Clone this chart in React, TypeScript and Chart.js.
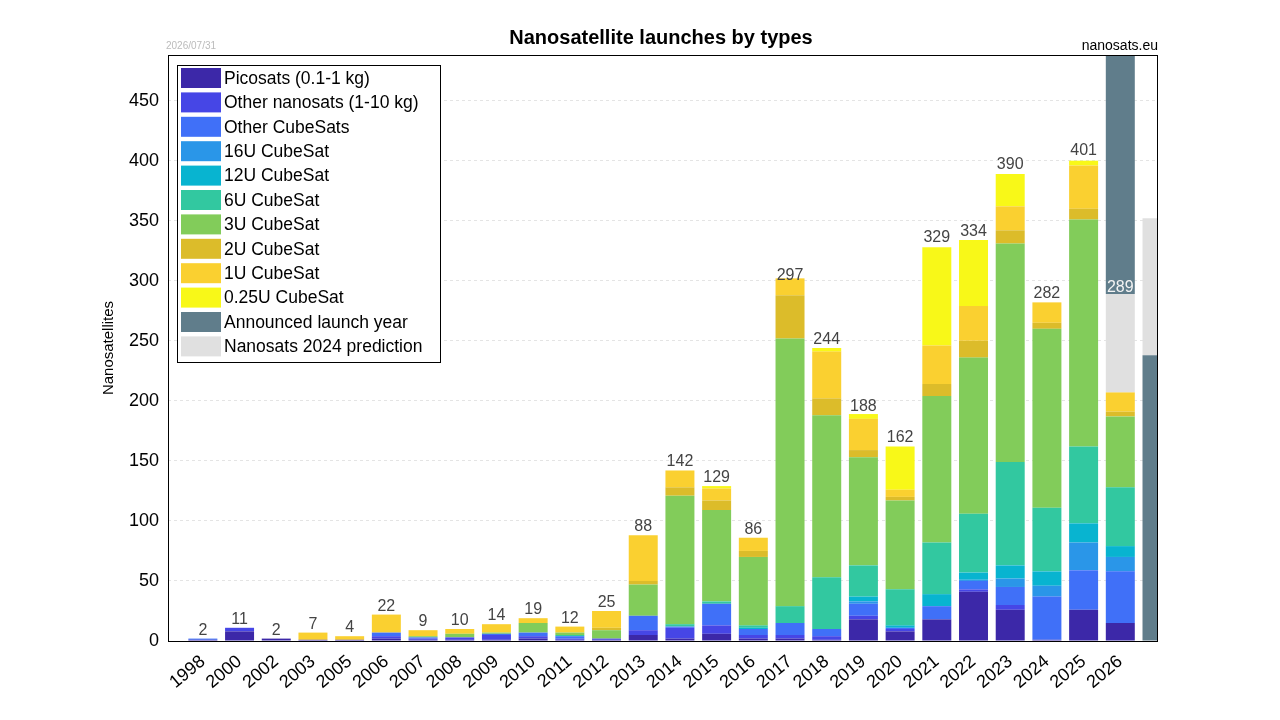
import React, { useEffect, useRef } from "react";
import { Chart, registerables } from "chart.js";
Chart.register(...registerables);

const years = ["1998","2000","2002","2003","2005","2006","2007","2008","2009","2010","2011","2012","2013","2014","2015","2016","2017","2018","2019","2020","2021","2022","2023","2024","2025","2026",""];
const totals = [2,11,2,7,4,22,9,10,14,19,12,25,88,142,129,86,297,244,188,162,329,334,390,282,401];

const picosats   = [1,8,2,1,1,2,1,1,1,2,1,1,5,2,6,2,2,1,18,8,18,41,26,1,26,15,0];
const otherNano  = [0,3,0,0,0,2,1,2,4,2,1,1,4,9,7,3,3,3,3,2,0,2,4,0,0,0,0];
const otherCube  = [1,0,0,0,0,3,1,0,1,3,2,0,12,1,18,5,10,6,10,1,11,7,15,36,33,43,0];
const u16        = [0,0,0,0,0,0,0,0,0,0,0,0,0,0,0,0,0,0,2,0,0,1,7,9,23,12,0];
const u12        = [0,0,0,0,0,0,0,0,0,0,0,0,0,0,0,1,0,0,4,2,10,6,11,12,16,9,0];
const u6         = [0,0,0,0,0,0,0,0,0,0,1,0,0,2,2,2,14,43,26,30,43,49,86,53,64,49,0];
const u3         = [0,0,0,0,0,0,1,3,1,8,2,7,26,107,76,57,223,135,90,74,122,130,182,149,189,59,0];
const u2         = [0,0,0,0,0,0,0,0,0,0,0,2,3,7,8,5,36,14,6,3,10,14,11,5,9,4,0];
const u1         = [0,0,0,6,3,15,5,4,7,4,5,14,38,14,10,11,14,39,26,6,32,29,20,17,36,16,0];
const u025       = [0,0,0,0,0,0,0,0,0,0,0,0,0,0,2,0,0,3,4,36,82,55,27,0,4,0,0];
const announced  = [0,0,0,0,0,0,0,0,0,0,0,0,0,0,0,0,0,0,0,0,0,0,0,0,0,0,238];
const prediction = [0,0,0,0,0,0,0,0,0,0,0,0,0,0,0,0,0,0,0,0,0,0,0,0,0,82,114];
const announced2026 = [0,0,0,0,0,0,0,0,0,0,0,0,0,0,0,0,0,0,0,0,0,0,0,0,0,250,0];
const predictionTotal = 289;

const seriesNames = ["Picosats (0.1-1 kg)","Other nanosats (1-10 kg)","Other CubeSats","16U CubeSat","12U CubeSat","6U CubeSat","3U CubeSat","2U CubeSat","1U CubeSat","0.25U CubeSat","Announced launch year","Nanosats 2024 prediction"];
const seriesColors = ["#3c28a8","#4646e6","#4070f8","#2a96e8","#08b4d0","#32c8a0","#82cc5a","#dcbc2a","#fad030","#f8f818","#607d8b","#e0e0e0"];

const FONT = "Arial, 'Liberation Sans', sans-serif";

export default function App() {
  const ref = useRef<HTMLCanvasElement>(null);
  useEffect(() => {
    document.body.style.margin = "0";
    const series = [picosats,otherNano,otherCube,u16,u12,u6,u3,u2,u1,u025];
    const ds: any[] = series.map((s, i) => ({
      label: seriesNames[i], backgroundColor: seriesColors[i],
      data: s.map((v, j) => ({ x: j, y: v })),
    }));
    ds.push({ label: seriesNames[10], backgroundColor: seriesColors[10], data: announced.map((v, j) => ({ x: j, y: v })) });
    ds.push({ label: seriesNames[11], backgroundColor: seriesColors[11], data: prediction.map((v, j) => ({ x: j, y: v })) });
    ds.push({ label: "_a2026", backgroundColor: seriesColors[10], data: announced2026.map((v, j) => ({ x: j, y: v })) });
    ds.forEach((d) => { d.barPercentage = 0.79; d.categoryPercentage = 1; d.borderWidth = 0; });

    const deco = {
      id: "deco",
      afterDraw(chart: any) {
        const ctx = chart.ctx;
        const { left, right, top, bottom } = chart.chartArea;
        const xs = chart.scales.x, ys = chart.scales.y;
        ctx.save();
        ctx.strokeStyle = "#000"; ctx.lineWidth = 1;
        ctx.strokeRect(left + 0.5, top + 0.5, right - left, bottom - top);
        ctx.fillStyle = "#000"; ctx.textAlign = "center"; ctx.textBaseline = "alphabetic";
        ctx.font = "bold 20px " + FONT;
        ctx.fillText("Nanosatellite launches by types", 661, 44);
        ctx.font = "14px " + FONT;
        ctx.textAlign = "right"; ctx.fillText("nanosats.eu", right + 1, 50);
        ctx.font = "10px " + FONT; ctx.fillStyle = "#bbb";
        ctx.textAlign = "left"; ctx.fillText("2026/07/31", 166, 49);
        ctx.font = "16px " + FONT; ctx.fillStyle = "#444"; ctx.textAlign = "center";
        totals.forEach((t, i) => ctx.fillText(String(t), xs.getPixelForValue(i), ys.getPixelForValue(t) - 4));
        ctx.fillStyle = "#f4f4f4";
        ctx.fillText(String(predictionTotal), xs.getPixelForValue(25), ys.getPixelForValue(predictionTotal) - 2);
        const lx = 177, ly = 65, rowH = 24.4;
        ctx.fillStyle = "#fff"; ctx.fillRect(lx, ly, 263, 297);
        ctx.strokeStyle = "#000"; ctx.strokeRect(lx + 0.5, ly + 0.5, 263, 297);
        ctx.font = "17.5px " + FONT; ctx.textAlign = "left"; ctx.textBaseline = "middle";
        seriesNames.forEach((n, i) => {
          const cy = ly + 13 + i * rowH;
          ctx.fillStyle = seriesColors[i]; ctx.fillRect(lx + 4, cy - 10, 40, 20);
          ctx.fillStyle = "#000"; ctx.fillText(n, lx + 47, cy + 1);
        });
        ctx.restore();
      },
    };

    const chart = new Chart(ref.current!, {
      type: "bar",
      data: { datasets: ds },
      plugins: [deco],
      options: {
        animation: false, responsive: false, maintainAspectRatio: false,
        layout: { padding: { top: 55, right: 123, left: 100, bottom: 0 } },
        plugins: { legend: { display: false }, tooltip: { enabled: false } },
        scales: {
          x: {
            type: "linear", stacked: true, min: -0.95, max: 26, offset: false,
            grid: { display: false }, border: { display: false },
            afterBuildTicks: (s: any) => { s.ticks = years.slice(0, 26).map((_, i) => ({ value: i })); },
            afterFit: (s: any) => { s.height = 79; },
            ticks: {
              autoSkip: false, maxRotation: 40, minRotation: 40, color: "#000", padding: 2,
              font: { size: 18, family: FONT },
              callback: (v: any) => years[v as number] ?? "",
            },
          },
          y: {
            stacked: true, min: 0, max: 488,
            afterBuildTicks: (s: any) => { s.ticks = [0,50,100,150,200,250,300,350,400,450].map((v) => ({ value: v })); },
            afterFit: (s: any) => { s.width = 68; },
            grid: { color: "#e4e4e4", tickLength: 0, drawTicks: false },
            border: { display: false, dash: [3, 3] },
            title: { display: true, text: "Nanosatellites", color: "#000", padding: 0, font: { size: 15, family: FONT } },
            ticks: { color: "#000", padding: 9, font: { size: 18, family: FONT } },
          },
        },
      },
    } as any);
    return () => chart.destroy();
  }, []);
  return <canvas ref={ref} width={1280} height={720} style={{ display: "block", width: 1280, height: 720 }} />;
}
